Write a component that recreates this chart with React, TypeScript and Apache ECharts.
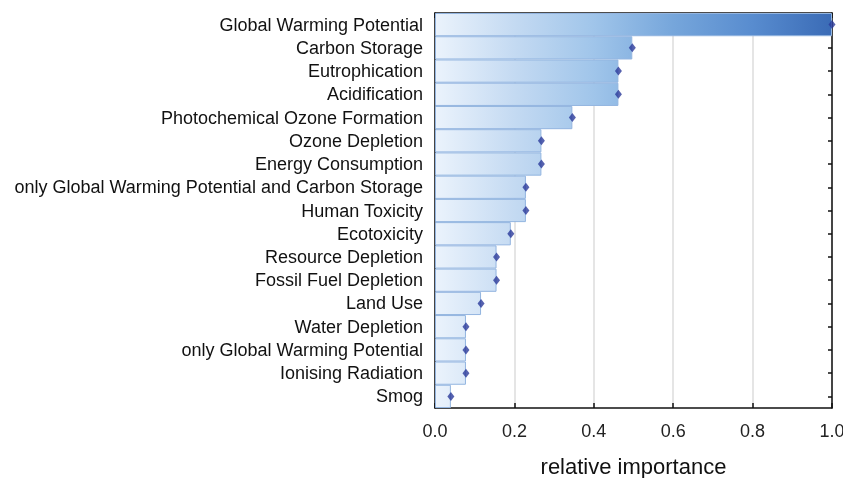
import React, { useEffect, useRef } from "react";
import * as echarts from "echarts";

const categories = [
  "Global Warming Potential",
  "Carbon Storage",
  "Eutrophication",
  "Acidification",
  "Photochemical Ozone Formation",
  "Ozone Depletion",
  "Energy Consumption",
  "only Global Warming Potential and Carbon Storage",
  "Human Toxicity",
  "Ecotoxicity",
  "Resource Depletion",
  "Fossil Fuel Depletion",
  "Land Use",
  "Water Depletion",
  "only Global Warming Potential",
  "Ionising Radiation",
  "Smog",
];

const importance = [
  1.0, 0.497, 0.462, 0.462, 0.346, 0.268, 0.268, 0.229, 0.229, 0.191, 0.155,
  0.155, 0.116, 0.078, 0.078, 0.078, 0.04,
];

const xTicks = [0, 0.2, 0.4, 0.6, 0.8, 1.0];

export default function App() {
  const ref = useRef<HTMLDivElement>(null);
  useEffect(() => {
    if (!ref.current) return;
    const chart = echarts.init(ref.current, null, { renderer: "svg" });
    const gLeft = 435;
    const gRight = 11;
    const gTop = 13;
    const gBottom = 70;
    const W = ref.current.clientWidth || 843;
    const font = "Liberation Sans, Arial, sans-serif";
    const grad = new echarts.graphic.LinearGradient(
      gLeft,
      0,
      W - gRight,
      0,
      [
        { offset: 0, color: "#ebf3fc" },
        { offset: 0.2, color: "#c4daf2" },
        { offset: 0.4, color: "#a0c5ea" },
        { offset: 0.6, color: "#76a6db" },
        { offset: 0.8, color: "#588ccf" },
        { offset: 1, color: "#3a6bb6" },
      ],
      true
    );
    const tickMin = xTicks[0];
    const tickMax = xTicks[xTicks.length - 1];
    const tickInt = xTicks[1] - xTicks[0];
    chart.setOption({
      animation: false,
      grid: {
        left: gLeft,
        right: gRight,
        top: gTop,
        bottom: gBottom,
        containLabel: false,
        outerBoundsMode: "none",
      },
      xAxis: [
        {
          type: "value",
          min: tickMin,
          max: tickMax,
          interval: tickInt,
          position: "bottom",
          axisLine: { show: true, onZero: false, lineStyle: { color: "#111", width: 1.5 } },
          axisTick: { show: true, inside: true, length: 5, lineStyle: { color: "#111", width: 1.5 } },
          axisLabel: {
            color: "#222",
            fontSize: 18,
            fontFamily: font,
            margin: 14,
            formatter: (v: number) => v.toFixed(1),
          },
          splitLine: { show: true, lineStyle: { color: "#dcdcdc", width: 1.5 } },
          name: "relative importance",
          nameLocation: "middle",
          nameGap: 47,
          nameTextStyle: { color: "#111", fontSize: 22, fontFamily: font },
        },
        {
          type: "value",
          min: tickMin,
          max: tickMax,
          interval: tickInt,
          position: "top",
          axisLine: { show: true, onZero: false, lineStyle: { color: "#111", width: 1.5 } },
          axisTick: { show: true, inside: true, length: 5, lineStyle: { color: "#111", width: 1.5 } },
          axisLabel: { show: false },
          splitLine: { show: false },
        },
      ],
      yAxis: [
        {
          type: "category",
          data: categories,
          inverse: true,
          position: "left",
          axisLine: { show: true, onZero: false, lineStyle: { color: "#111", width: 1.5 } },
          axisTick: { show: true, inside: true, alignWithLabel: true, length: 4, lineStyle: { color: "#111", width: 1.5 } },
          axisLabel: { color: "#111", fontSize: 18, fontFamily: font, margin: 12, interval: 0 },
          splitLine: { show: false },
        },
        {
          type: "category",
          data: categories,
          inverse: true,
          position: "right",
          axisLine: { show: true, onZero: false, lineStyle: { color: "#111", width: 1.5 } },
          axisTick: { show: true, inside: true, alignWithLabel: true, length: 4, interval: 0, lineStyle: { color: "#111", width: 1.5 } },
          axisLabel: { show: false, interval: 0 },
          splitLine: { show: false },
        },
      ],
      series: [
        {
          type: "bar",
          data: importance,
          barWidth: "100%",
          barCategoryGap: 0,
          itemStyle: { color: grad, borderColor: "#93b5e0", borderWidth: 1 },
          z: 2,
        },
        {
          type: "scatter",
          data: importance,
          symbol: "diamond",
          symbolSize: [7, 9],
          itemStyle: { color: "#2a399a" },
          z: 5,
        },
      ],
    });
    return () => chart.dispose();
  }, []);
  return (
    <div
      ref={ref}
      style={{ position: "fixed", left: 0, top: 0, width: 843, height: 478 }}
    />
  );
}
